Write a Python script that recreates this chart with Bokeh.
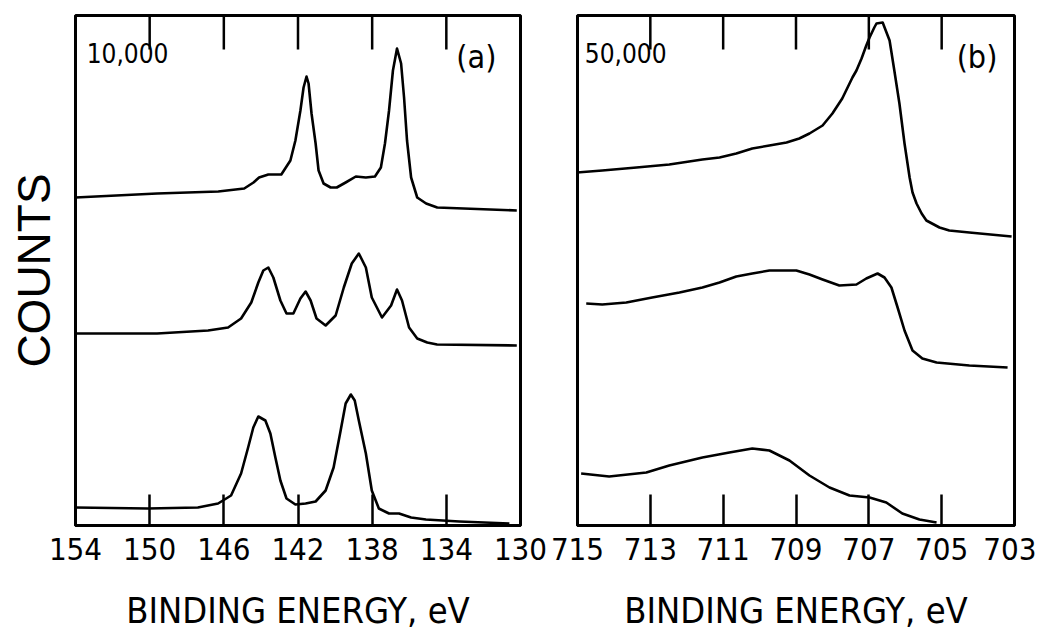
from bokeh.plotting import figure
from bokeh.models import Range1d, FixedTicker, Label
from bokeh.layouts import row
from bokeh.embed import file_html
from bokeh.resources import INLINE

NARROW = "DejaVu Sans Condensed, Liberation Sans"
REGULAR = "Liberation Sans"

# ---------------- data (arbitrary counts, curves offset vertically) ----------------
a_ticks = [154, 150, 146, 142, 138, 134, 130]
b_ticks = [715, 713, 711, 709, 707, 705, 703]

a_top_x = [154.0, 149.6, 146.3, 144.9, 144.4, 144.1, 143.6, 142.9, 142.41, 142.14, 141.87, 141.70,
           141.54, 141.43, 141.27, 141.05, 140.89, 140.62, 140.24, 139.91, 139.43, 138.88, 138.34,
           137.85, 137.53, 137.31, 137.09, 136.88, 136.66, 136.44, 136.28, 136.12, 135.90, 135.57,
           135.09, 134.49, 130.2]
a_top_y = [328, 332, 334, 337, 343, 348, 351, 351, 365, 385, 415, 438,
           449, 442, 412, 382, 355, 342, 338, 338, 343, 349, 348,
           349, 358, 382, 415, 455, 477, 462, 428, 385, 348, 328,
           322, 318, 315]

a_mid_x = [154.0, 149.6, 146.85, 145.77, 145.07, 144.52, 144.14, 143.87, 143.60, 143.33, 142.95,
           142.62, 142.25, 141.87, 141.59, 141.32, 141.0, 140.51, 139.97, 139.53, 139.10, 138.72,
           138.34, 138.02, 137.47, 136.98, 136.66, 136.39, 136.01, 135.57, 135.03, 134.5, 130.2]
a_mid_y = [192, 192, 195, 198, 207, 223, 243, 255, 258, 248, 225,
           212, 212, 227, 234, 225, 207, 200, 210, 238, 262, 272,
           258, 228, 208, 220, 236, 225, 198, 187, 183, 181, 180]

a_bot_x = [154.0, 150.1, 147.4, 146.31, 145.61, 145.07, 144.69, 144.41, 144.14, 143.76, 143.49,
           143.22, 142.95, 142.62, 142.14, 141.59, 141.05, 140.51, 140.08, 139.70, 139.43, 139.15,
           138.94, 138.72, 138.34, 138.02, 137.64, 137.09, 136.55, 135.90, 135.1, 133.3, 130.6]
a_bot_y = [18, 17, 18, 22, 30, 52, 78, 98, 109, 105, 92,
           68, 45, 27, 21, 22, 24, 35, 58, 95, 122, 131,
           125, 105, 72, 35, 17, 12, 12, 8, 6, 4, 2]

b_top_x = [715.03, 714.32, 713.38, 712.48, 711.57, 711.10, 710.64, 710.20, 709.73, 709.26, 708.91,
           708.63, 708.27, 708.0, 707.73, 707.45, 707.34, 707.20, 707.07, 706.98, 706.85, 706.79,
           706.62, 706.43, 706.30, 706.16, 706.02, 705.88, 705.80, 705.69, 705.55, 705.42, 705.06,
           704.79, 704.24, 703.08]
b_top_y = [353, 355, 358, 361, 366, 368, 372, 377, 380, 383, 387,
           392, 400, 412, 427, 448, 455, 467, 480, 488, 498, 502,
           503, 485, 455, 422, 382, 348, 333, 322, 312, 305, 298,
           295, 293, 289]

b_mid_x = [714.76, 714.32, 713.66, 712.95, 712.20, 711.57, 711.10, 710.64, 710.20, 709.73, 708.99,
           708.63, 708.27, 707.81, 707.34, 707.07, 706.76, 706.57, 706.38, 706.21, 706.02, 705.80,
           705.53, 705.14, 704.24, 703.19]
b_mid_y = [222, 221, 223, 228, 233, 238, 243, 249, 252, 255, 255,
           251, 246, 240, 241, 247, 252, 248, 238, 218, 195, 175,
           167, 163, 160, 158]

b_bot_x = [714.90, 714.13, 713.11, 712.48, 711.57, 710.83, 710.20, 709.73, 709.18, 708.63, 708.08,
           707.53, 706.98, 706.52, 706.08, 705.61, 705.14]
b_bot_y = [52, 49, 53, 60, 68, 73, 77, 75, 65, 50, 38,
           30, 28, 23, 12, 6, 3]

scale_a = "10,000"
scale_b = "50,000"
xlabel = "BINDING ENERGY, eV"
ylabel = "COUNTS"

Y_TOP = 510
TOP_TICK_LEN = 34


def make_panel(xr, ticks, width, left, right, series, scale_text, scale_x, tag, tag_x, with_ylabel):
    p = figure(width=width, height=636, x_range=Range1d(xr[0], xr[1]), y_range=Range1d(0, Y_TOP),
               output_backend="svg", toolbar_location=None,
               min_border_left=left, min_border_right=right, min_border_top=15, min_border_bottom=111,
               background_fill_color="white", border_fill_color="white")
    p.grid.visible = False
    p.outline_line_color = "black"
    p.outline_line_width = 3

    xa = p.xaxis[0]
    xa.ticker = FixedTicker(ticks=ticks)
    xa.minor_tick_line_color = None
    xa.major_tick_in = 31
    xa.major_tick_out = 0
    xa.major_tick_line_width = 2.5
    xa.axis_line_width = 3
    xa.major_label_standoff = 12
    xa.major_label_text_font = NARROW
    xa.major_label_text_font_size = "31px"
    xa.major_label_text_color = "black"
    xa.axis_label = xlabel
    xa.axis_label_text_font = NARROW
    xa.axis_label_text_font_size = "36px"
    xa.axis_label_text_font_style = "normal"
    xa.axis_label_text_color = "black"
    xa.axis_label_standoff = 27

    # inward tick marks along the top edge of the frame (at the same tick values)
    n = len(ticks)
    p.segment(x0=ticks, y0=[Y_TOP] * n, x1=ticks, y1=[Y_TOP - TOP_TICK_LEN] * n,
              line_color="black", line_width=2.5)

    ya = p.yaxis[0]
    ya.ticker = FixedTicker(ticks=[])
    ya.minor_tick_line_color = None
    ya.major_tick_in = 0
    ya.major_tick_out = 0
    ya.major_label_standoff = 0
    ya.axis_line_width = 3
    if with_ylabel:
        ya.axis_label = ylabel
        ya.axis_label_text_font = REGULAR
        ya.axis_label_text_font_size = "46px"
        ya.axis_label_text_font_style = "normal"
        ya.axis_label_text_color = "black"
        ya.axis_label_standoff = 16

    for xs, ys in series:
        p.line(xs, ys, line_color="black", line_width=2.6, line_join="round")

    p.add_layout(Label(x=scale_x, y=473, text=scale_text, text_align="left",
                       text_baseline="middle", text_font=NARROW, text_font_size="26px",
                       text_color="black"))
    p.add_layout(Label(x=tag_x, y=469, text=tag, text_align="right",
                       text_baseline="middle", text_font=NARROW, text_font_size="32px",
                       text_color="black"))
    return p


pa = make_panel((154, 130), a_ticks, 548, 75, 28,
                [(a_top_x, a_top_y), (a_mid_x, a_mid_y), (a_bot_x, a_bot_y)],
                scale_a, 153.4, "(a)", 131.3, True)
pb = make_panel((715, 703), b_ticks, 488, 29, 22,
                [(b_top_x, b_top_y), (b_mid_x, b_mid_y), (b_bot_x, b_bot_y)],
                scale_b, 714.8, "(b)", 703.47, False)

layout = row(pa, pb)
open("out.html", "w").write(file_html(layout, INLINE))
